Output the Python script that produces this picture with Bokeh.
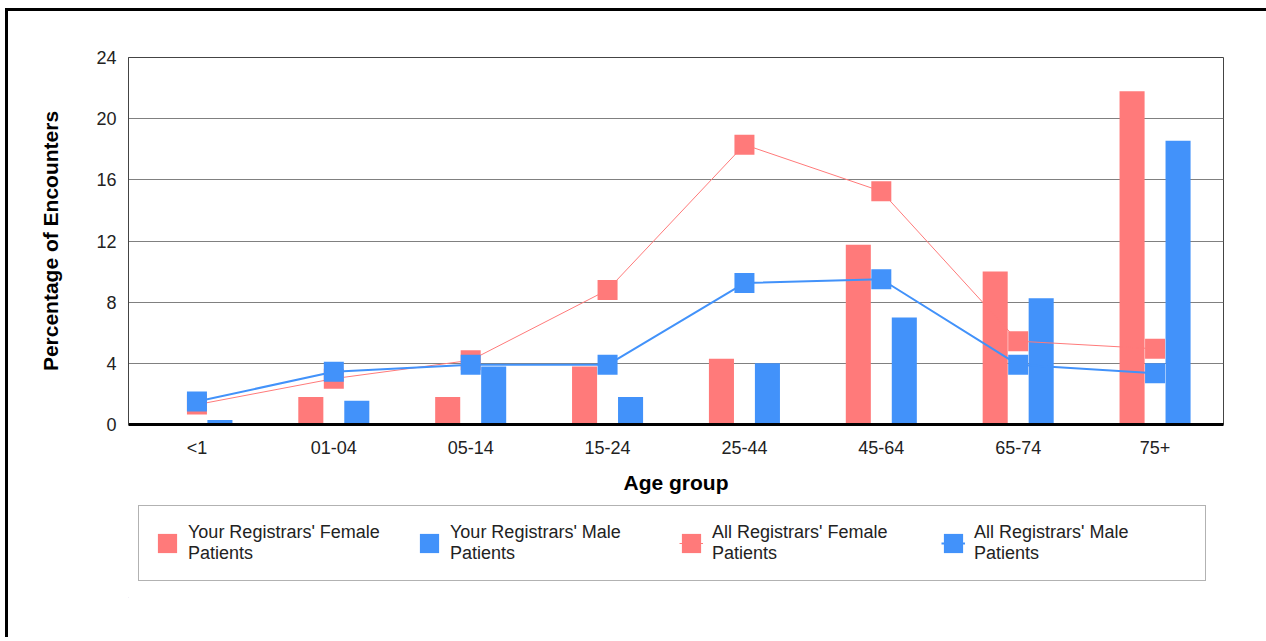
from bokeh.plotting import figure
from bokeh.layouts import column
from bokeh.models import FactorRange, FixedTicker, Legend, LegendItem, Range1d
from bokeh.transform import dodge
from bokeh.embed import file_html
from bokeh.resources import INLINE

categories = ["<1", "01-04", "05-14", "15-24", "25-44", "45-64", "65-74", "75+"]
your_female = [0.0, 1.8, 1.8, 3.8, 4.3, 11.75, 10.0, 21.8]
your_male = [0.3, 1.55, 3.8, 1.8, 4.0, 7.0, 8.25, 18.55]
all_female = [1.3, 3.0, 4.2, 8.8, 18.3, 15.25, 5.45, 4.95]
all_male = [1.5, 3.45, 3.9, 3.9, 9.25, 9.5, 3.9, 3.35]
y_ticks = [0, 4, 8, 12, 16, 20, 24]
legend_labels = ["Your Registrars' Female\nPatients", "Your Registrars' Male\nPatients",
                 "All Registrars' Female\nPatients", "All Registrars' Male\nPatients"]

RED = "#ff7a7a"
BLUE = "#4292fa"
FONT = "Liberation Sans"

p = figure(
    x_range=FactorRange(*categories),
    y_range=(0, 24),
    frame_width=1095, frame_height=367,
    min_border_left=120, min_border_top=46, min_border_right=43, min_border_bottom=76,
    output_backend="svg", toolbar_location=None,
)

p.outline_line_color = "#444444"
p.outline_line_width = 1
p.xgrid.grid_line_color = None
p.ygrid.grid_line_color = "#808080"
p.ygrid.grid_line_width = 1
p.yaxis.ticker = FixedTicker(ticks=y_ticks)

for ax in (p.xaxis[0], p.yaxis[0]):
    ax.major_tick_line_color = None
    ax.minor_tick_line_color = None
    ax.major_label_text_font = FONT
    ax.major_label_text_font_size = "18px"
    ax.major_label_text_color = "#222222"
    ax.axis_label_text_font = FONT
    ax.axis_label_text_font_size = "21px"
    ax.axis_label_text_font_style = "bold"
    ax.axis_label_text_color = "#000000"

p.xaxis.axis_label = "Age group"
p.xaxis.axis_line_color = "#000000"
p.xaxis.axis_line_width = 3
p.xaxis.major_label_standoff = 7
p.xaxis.axis_label_standoff = 10
p.yaxis.axis_label = "Percentage of Encounters"
p.yaxis.axis_line_color = "#444444"
p.yaxis.axis_line_width = 1
p.yaxis.major_label_standoff = 6
p.yaxis.axis_label_standoff = 31

src = dict(x=categories, yf=your_female, ym=your_male, af=all_female, am=all_male)

p.vbar(x=dodge("x", -0.168, range=p.x_range), top="yf", width=0.183,
       source=src, fill_color=RED, line_color=None)
p.vbar(x=dodge("x", 0.168, range=p.x_range), top="ym", width=0.183,
       source=src, fill_color=BLUE, line_color=None)
p.line(x="x", y="af", source=src, line_color=RED, line_width=1)
p.rect(x="x", y="af", width=20, height=20, width_units="screen",
       height_units="screen", source=src, fill_color=RED, line_color=None)
p.line(x="x", y="am", source=src, line_color=BLUE, line_width=2)
p.rect(x="x", y="am", width=20, height=20, width_units="screen",
       height_units="screen", source=src, fill_color=BLUE, line_color=None)

# Legend panel (separate canvas below the chart, same borders as the chart so
# the column keeps both frames aligned). The key renderers hold one off-range
# point each, so only their legend swatches are visible.
p2 = figure(
    x_range=Range1d(0, 1), y_range=Range1d(0, 1),
    frame_width=1095, frame_height=95,
    min_border_left=120, min_border_right=43, min_border_top=2, min_border_bottom=40,
    x_axis_type=None, y_axis_type=None,
    output_backend="svg", toolbar_location=None,
)
p2.outline_line_color = None
p2.xgrid.visible = False
p2.ygrid.visible = False

off = dict(x=[-5.0], y=[-5.0])
k_f = p2.vbar(x="x", top="y", width=1, source=off, fill_color=RED, line_color=None)
k_m = p2.vbar(x="x", top="y", width=1, source=off, fill_color=BLUE, line_color=None)
kl_f = p2.line(x="x", y="y", source=off, line_color=RED, line_width=1)
kr_f = p2.rect(x="x", y="y", width=20, height=20, width_units="screen", height_units="screen",
               source=off, fill_color=RED, line_color=None)
kl_m = p2.line(x="x", y="y", source=off, line_color=BLUE, line_width=2)
kr_m = p2.rect(x="x", y="y", width=20, height=20, width_units="screen", height_units="screen",
               source=off, fill_color=BLUE, line_color=None)

legend = Legend(
    items=[
        LegendItem(label=legend_labels[0], renderers=[k_f]),
        LegendItem(label=legend_labels[1], renderers=[k_m]),
        LegendItem(label=legend_labels[2], renderers=[kl_f, kr_f]),
        LegendItem(label=legend_labels[3], renderers=[kl_m, kr_m]),
    ],
    orientation="horizontal",
    location=(10, 16),
    glyph_width=24, glyph_height=24,
    label_standoff=9, label_width=215, spacing=14,
    padding=16, margin=0,
    label_text_font=FONT, label_text_font_size="18px", label_text_color="#222222",
    border_line_color="#666666", border_line_width=1,
    background_fill_color="white", background_fill_alpha=1,
)
p2.add_layout(legend, "center")

layout = column(p, p2, spacing=0)
layout.styles = {"border-left": "3px solid black", "border-top": "3px solid black",
                 "margin-left": "5px", "margin-top": "8px"}

open("out.html", "w").write(file_html(layout, INLINE))
